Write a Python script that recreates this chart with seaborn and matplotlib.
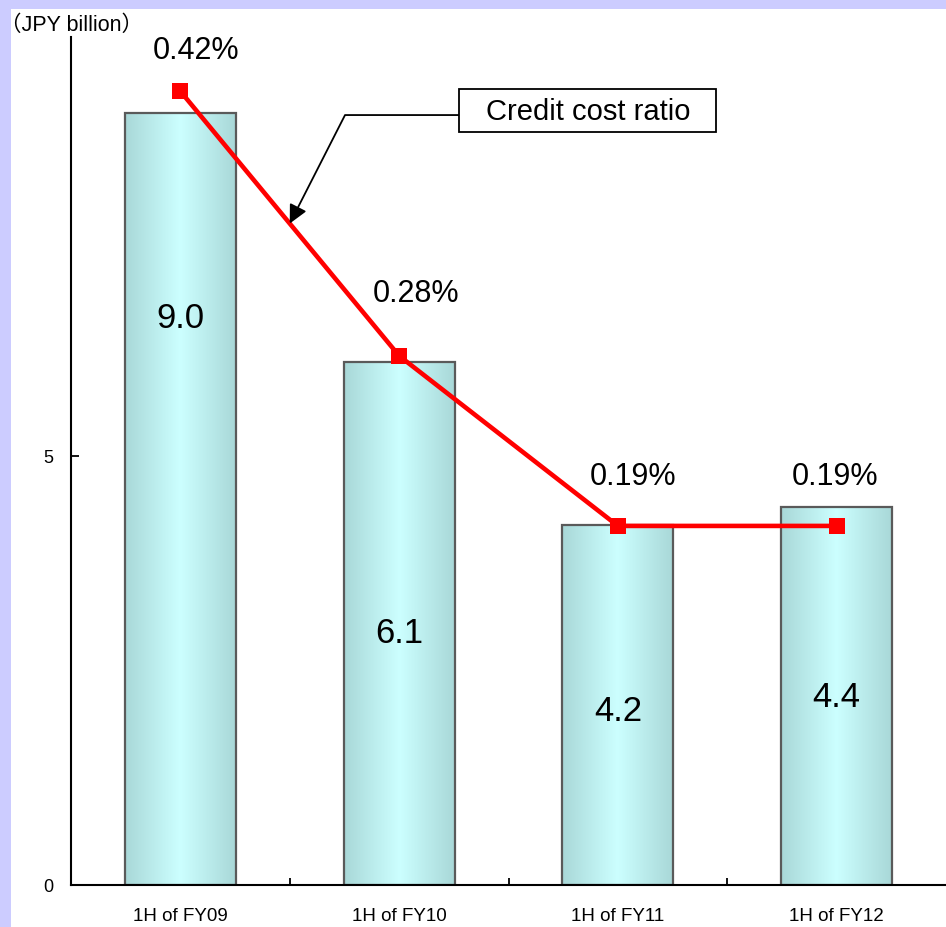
import numpy as np
import pandas as pd
import matplotlib
matplotlib.use("Agg")
import matplotlib.pyplot as plt
import seaborn as sns
from matplotlib.colors import LinearSegmentedColormap
from matplotlib.patches import Rectangle

# Credit cost by half-year period
periods = ["1H of FY09", "1H of FY10", "1H of FY11", "1H of FY12"]
credit_cost = [9.0, 6.1, 4.2, 4.4]             # JPY billion
credit_cost_ratio = [0.42, 0.28, 0.19, 0.19]   # %
y_ticks = [0, 5]

# placement of the in-bar value labels (fraction of bar height)
value_label_frac = [0.735, 0.482, 0.485, 0.499]
# offsets (points) of the ratio labels from their markers
ratio_label_offsets = [(11, 30), (12, 45), (11, 36), (-1, 36)]

sns.set_theme(style="white")
plt.rcParams["font.family"] = ["Liberation Sans", "DejaVu Sans"]

fig = plt.figure(figsize=(9.46, 9.28), dpi=100)
fig.patch.set_facecolor("#CCCCFF")
fig.add_artist(Rectangle((11 / 946, 0), 1, 1 - 10 / 928, transform=fig.transFigure,
                         facecolor="white", edgecolor="none", zorder=-10))

ax = fig.add_axes([71 / 946, 1 - 886 / 928, 875 / 946, 848 / 928])
ax.set_facecolor("white")

df = pd.DataFrame({"period": periods, "cost": credit_cost})
sns.barplot(data=df, x="period", y="cost", ax=ax, width=0.507, color="#BDEBEB",
            saturation=1, edgecolor="#5A5A5A", linewidth=1.6, zorder=2)

# horizontal cyan shading inside each bar
cmap = LinearSegmentedColormap.from_list("bar_shade", ["#A9D8D8", "#CCFFFF", "#A9D8D8"])
grad = np.linspace(0, 1, 256).reshape(1, -1)
for bar in ax.patches:
    x0, w, h = bar.get_x(), bar.get_width(), bar.get_height()
    im = ax.imshow(grad, cmap=cmap, extent=[x0, x0 + w, 0, h], aspect="auto",
                   zorder=1.9, interpolation="bicubic")
    im.set_clip_path(bar)
    bar.set_facecolor("none")

ax.set_xlim(-0.5, 3.5)
ax.set_ylim(0, 9.883)

for side in ["top", "right"]:
    ax.spines[side].set_visible(False)
for side in ["left", "bottom"]:
    ax.spines[side].set_color("black")
    ax.spines[side].set_linewidth(1.5)

ax.set_yticks(y_ticks)
ax.tick_params(axis="y", direction="in", length=6, width=1.3, pad=13,
               labelsize=13, colors="black", left=True)
ax.set_xticks(range(len(periods)))
ax.set_xticklabels(periods)
ax.tick_params(axis="x", which="major", length=0, pad=16, labelsize=13.5, colors="black")
ax.set_xticks([0.5, 1.5, 2.5], minor=True)
ax.tick_params(axis="x", which="minor", direction="in", length=5, width=1.3,
               color="black", bottom=True)
ax.set_xlabel("")
ax.set_ylabel("")

for i, (v, f) in enumerate(zip(credit_cost, value_label_frac)):
    ax.text(i, v * f, f"{v:.1f}", ha="center", va="center", fontsize=25,
            color="black", zorder=5)

# credit cost ratio on a hidden secondary scale
ax2 = ax.twinx()
sns.lineplot(x=periods, y=credit_cost_ratio, ax=ax2, color="#FF0000", linewidth=3.3,
             marker="s", markersize=11.5, markeredgewidth=0, sort=False)
ax2.set_ylim(0, 0.4487)
ax2.set_xlim(-0.5, 3.5)
ax2.set_yticks([])
ax2.set_ylabel("")
for s in ax2.spines.values():
    s.set_visible(False)

for i, (r, off) in enumerate(zip(credit_cost_ratio, ratio_label_offsets)):
    ax2.annotate(f"{r:.2f}%", xy=(i, r), xytext=off, textcoords="offset points",
                 ha="center", va="center", fontsize=22, color="black")

# callout box pointing at the ratio line
box_x0, box_x1, box_y0, box_y1 = 1.276, 2.45, 0.3984, 0.4212
ax2.add_patch(Rectangle((box_x0, box_y0), box_x1 - box_x0, box_y1 - box_y0,
                        facecolor="white", edgecolor="black", lw=1.3, zorder=6))
ax2.text((box_x0 + box_x1) / 2, (box_y0 + box_y1) / 2, "Credit cost ratio",
         ha="center", va="center", fontsize=21, color="black", zorder=7)
ax2.annotate("", xy=(0.5, 0.35), xycoords="data",
             xytext=(box_x0, 0.4074), textcoords="data",
             arrowprops=dict(arrowstyle="-|>", connectionstyle="angle,angleA=0,angleB=63,rad=0",
                             color="black", lw=1.3, mutation_scale=28, shrinkA=0, shrinkB=0))

fig.text(0 / 946, 1 - 25 / 928, "（JPY billion）", ha="left", va="center", fontsize=15.5,
         family=["Liberation Sans", "Noto Sans CJK JP"], color="black")

fig.savefig("out.png", dpi=100, facecolor=fig.get_facecolor())
